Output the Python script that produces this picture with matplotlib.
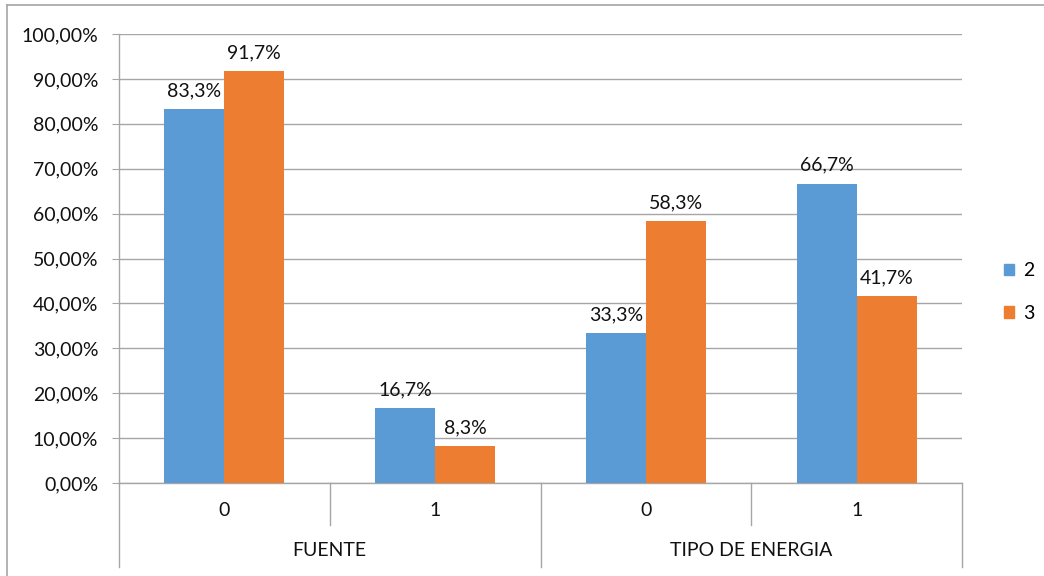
import matplotlib.pyplot as plt
import matplotlib.transforms as mtransforms
from matplotlib.lines import Line2D
from matplotlib.patches import Patch

plt.rcParams['font.family'] = ['Lato', 'DejaVu Sans']

groups = ['FUENTE', 'TIPO DE ENERGIA']
categories = ['0', '1', '0', '1']
series_names = ['2', '3']
serie_2 = [83.3, 16.7, 33.3, 66.7]
serie_3 = [91.7, 8.3, 58.3, 41.7]

blue = '#5B9BD5'
orange = '#ED7D31'
grid_col = '#a6a6a6'
txt_col = '#111111'
fs = 14

W, H = 1044, 576
fig = plt.figure(figsize=(W / 100, H / 100), dpi=100)
left, right, top, bottom = 119, 962, 34, 483
ax = fig.add_axes([left / W, 1 - bottom / H, (right - left) / W, (bottom - top) / H])

bw = 60 / 211
x = [i + 0.5 for i in range(len(categories))]
b2 = ax.bar([v - bw / 2 for v in x], serie_2, width=bw, color=blue, zorder=3)
b3 = ax.bar([v + bw / 2 for v in x], serie_3, width=bw, color=orange, zorder=3)

for bars, vals in ((b2, serie_2), (b3, serie_3)):
    for rect, v in zip(bars, vals):
        ax.annotate(f'{v:.1f}%'.replace('.', ','),
                    (rect.get_x() + rect.get_width() / 2, v),
                    xytext=(0, 7), textcoords='offset points',
                    ha='center', va='bottom', fontsize=fs, color=txt_col)

ax.set_xlim(0, 4)
ax.set_ylim(0, 100)
ax.set_yticks(range(0, 101, 10))
ax.set_yticklabels([f'{v},00%' for v in range(0, 101, 10)])
ax.tick_params(axis='y', direction='out', length=5, color=grid_col, pad=10,
               labelsize=fs, labelcolor=txt_col)
ax.set_xticks([])
ax.yaxis.grid(True, color=grid_col, linewidth=1, zorder=0)
for s in ('top', 'right'):
    ax.spines[s].set_visible(False)
for s in ('left', 'bottom'):
    ax.spines[s].set_color(grid_col)
    ax.spines[s].set_linewidth(1)

# two-level category axis below the plot
trans = mtransforms.blended_transform_factory(ax.transData, ax.transAxes)
ph = bottom - top
def yfrac(py):
    return (bottom - py) / ph

for xi, lab in zip(x, categories):
    ax.text(xi, yfrac(511), lab, transform=trans, ha='center', va='center',
            fontsize=fs, color=txt_col)
for gi, g in enumerate(groups):
    ax.text(gi * 2 + 1, yfrac(551), g, transform=trans, ha='center', va='center',
            fontsize=fs, color=txt_col)
for xd, yend in ((0, 567), (1, 525), (2, 567), (3, 525), (4, 567)):
    ax.add_line(Line2D([xd, xd], [0, yfrac(yend)], transform=trans, color=grid_col,
                       linewidth=1, clip_on=False))

handles = [Patch(color=blue), Patch(color=orange)]
fig.legend(handles, series_names, loc='center left', bbox_to_anchor=(986 / W, 1 - 292 / H),
           frameon=False, fontsize=fs, handlelength=0.55, handleheight=0.55,
           handletextpad=0.45, labelspacing=1.3)

# outer chart frame (top and left edges)
fig.add_artist(Line2D([7 / W, 1], [1 - 5 / H, 1 - 5 / H], transform=fig.transFigure,
                      color=grid_col, linewidth=1.2))
fig.add_artist(Line2D([7 / W, 7 / W], [0, 1 - 5 / H], transform=fig.transFigure,
                      color=grid_col, linewidth=1.2))

fig.savefig('out.png', dpi=100)
